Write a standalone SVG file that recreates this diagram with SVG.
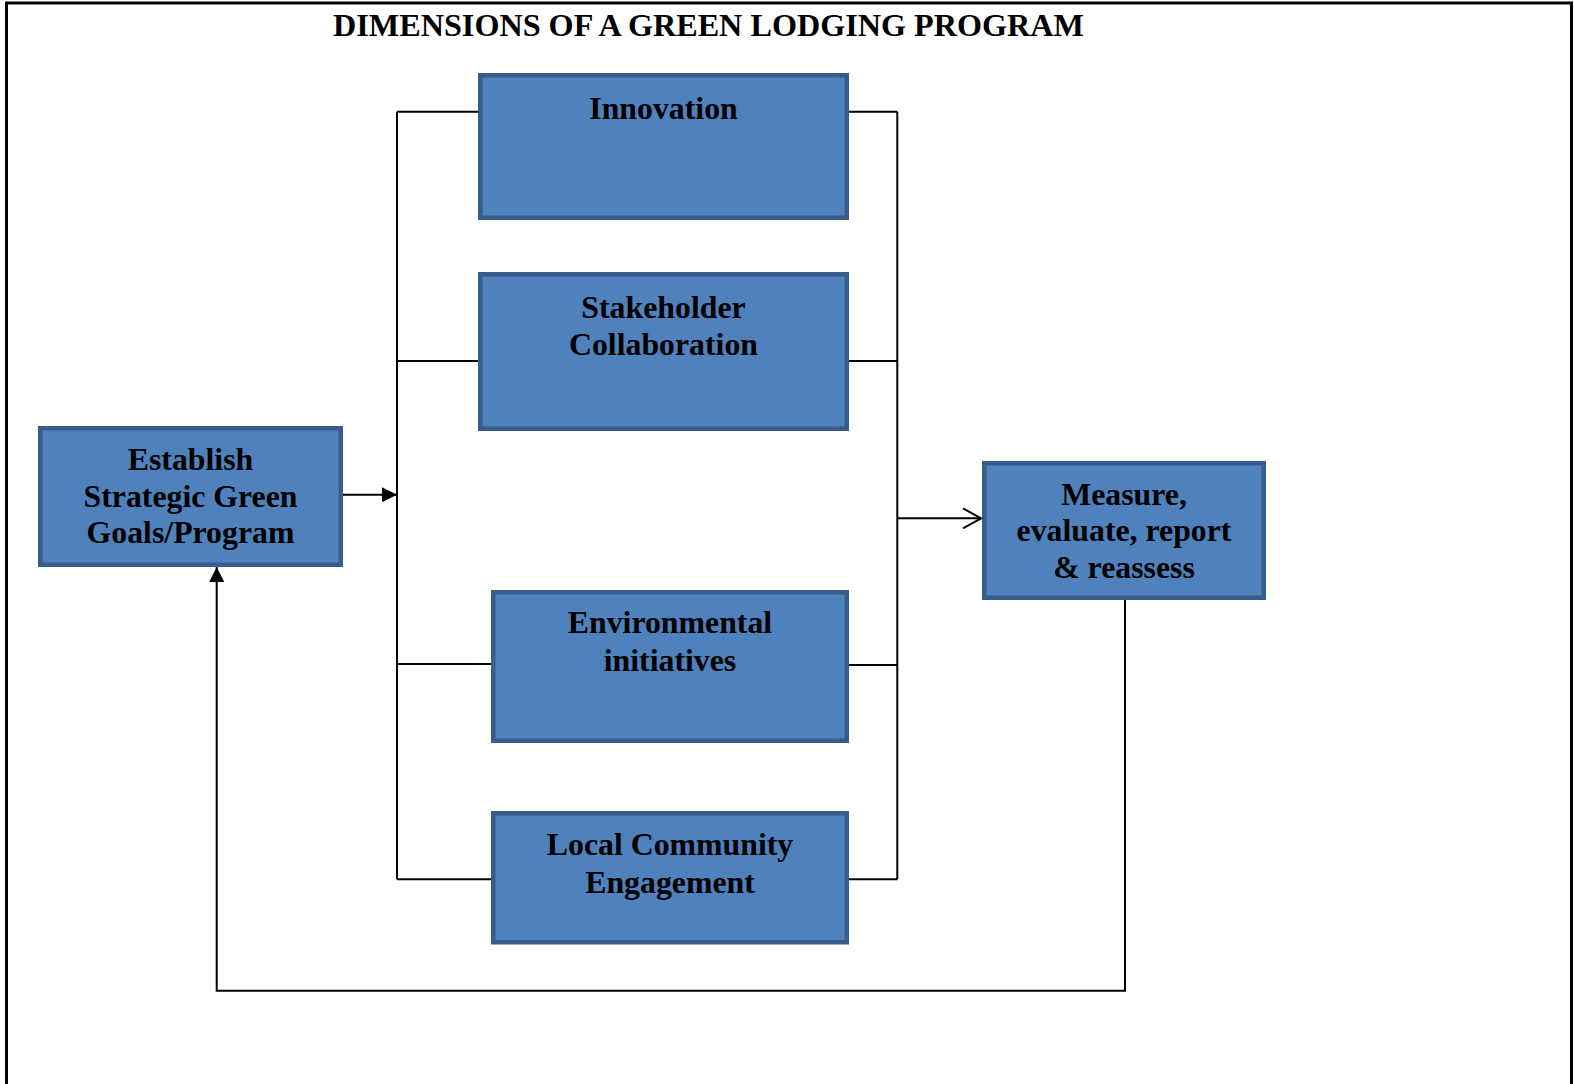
<svg xmlns="http://www.w3.org/2000/svg" width="1574" height="1084" viewBox="0 0 1574 1084">
  <style>
    .box { fill: #4F81BD; stroke: #385D8A; stroke-width: 4.5; }
    .lbl { font-family: "Liberation Serif", "Times New Roman", serif; font-weight: bold; font-size: 31.8px; fill: #000; text-anchor: middle; }
    .title { font-size: 32.2px; }
    .wire { fill: none; stroke: #000; stroke-width: 2; }
    .frame { fill: none; stroke: #000; stroke-width: 3; }
  </style>
  <defs>
    <marker id="solid" viewBox="0 0 15 15" refX="15" refY="7.5" markerWidth="15" markerHeight="15" markerUnits="userSpaceOnUse" orient="auto">
      <path d="M0,0 L15,7.5 L0,15 Z" fill="#000"/>
    </marker>
    <marker id="open" viewBox="0 0 20 22" refX="19" refY="11" markerWidth="20" markerHeight="22" markerUnits="userSpaceOnUse" orient="auto">
      <path d="M1,1 L19,11 L1,21" fill="none" stroke="#000" stroke-width="2"/>
    </marker>
  </defs>
  <rect width="1574" height="1084" fill="#fff"/>

  <!-- page frame (open at the bottom) -->
  <path class="frame" d="M6.5,1084 V3 H1571.5 V1084"/>

  <text class="lbl title" x="708.5" y="35.5">DIMENSIONS OF A GREEN LODGING PROGRAM</text>

  <g id="connectors">
    <!-- goals to the dimension bus -->
    <line class="wire" x1="343" y1="494.7" x2="397" y2="494.7" marker-end="url(#solid)"/>
    <!-- left bus -->
    <line class="wire" x1="397" y1="111.7" x2="397" y2="879.3"/>
    <line class="wire" x1="397" y1="111.7" x2="479" y2="111.7"/>
    <line class="wire" x1="397" y1="361" x2="479" y2="361"/>
    <line class="wire" x1="397" y1="664" x2="492" y2="664"/>
    <line class="wire" x1="397" y1="879.3" x2="492" y2="879.3"/>
    <!-- right bus -->
    <line class="wire" x1="897.3" y1="111.7" x2="897.3" y2="879.3"/>
    <line class="wire" x1="848" y1="111.7" x2="897.3" y2="111.7"/>
    <line class="wire" x1="848" y1="361" x2="897.3" y2="361"/>
    <line class="wire" x1="848" y1="665" x2="897.3" y2="665"/>
    <line class="wire" x1="848" y1="879.3" x2="897.3" y2="879.3"/>
    <!-- bus to measure -->
    <line class="wire" x1="897.3" y1="518.3" x2="981" y2="518.3" marker-end="url(#open)"/>
    <!-- feedback loop -->
    <polyline class="wire" points="1125,600 1125,990.7 216.7,990.7 216.7,567" marker-end="url(#solid)"/>
  </g>

  <g id="innovation">
    <rect class="box" x="480.25" y="75.25" width="366.5" height="142.5"/>
    <text class="lbl" x="663.5" y="119">Innovation</text>
  </g>

  <g id="stakeholder">
    <rect class="box" x="480.25" y="274.25" width="366.5" height="154.5"/>
    <text class="lbl" x="663.5" y="318">Stakeholder</text>
    <text class="lbl" x="663.5" y="355">Collaboration</text>
  </g>

  <g id="environmental">
    <rect class="box" x="493.25" y="592.25" width="353.5" height="148.5"/>
    <text class="lbl" x="670" y="633">Environmental</text>
    <text class="lbl" x="670" y="671">initiatives</text>
  </g>

  <g id="community">
    <rect class="box" x="493.25" y="813.25" width="353.5" height="129"/>
    <text class="lbl" x="670" y="855">Local Community</text>
    <text class="lbl" x="670" y="893">Engagement</text>
  </g>

  <g id="goals">
    <rect class="box" x="40.25" y="428.25" width="300.5" height="136.5"/>
    <text class="lbl" x="190.5" y="470">Establish</text>
    <text class="lbl" x="190.5" y="507">Strategic Green</text>
    <text class="lbl" x="190.5" y="543">Goals/Program</text>
  </g>

  <g id="measure">
    <rect class="box" x="984.25" y="463.25" width="279.5" height="134.5"/>
    <text class="lbl" x="1124" y="505">Measure,</text>
    <text class="lbl" x="1124" y="541">evaluate, report</text>
    <text class="lbl" x="1124" y="578">&amp; reassess</text>
  </g>
</svg>
